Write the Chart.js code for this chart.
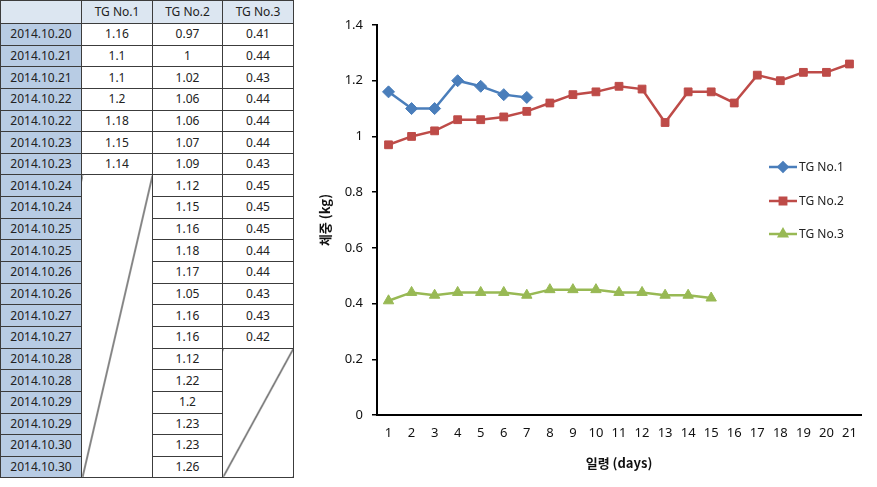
<!DOCTYPE html>
<html>
<head>
<meta charset="utf-8">
<script src="https://cdn.jsdelivr.net/npm/chart.js@4/dist/chart.umd.min.js"></script>
<style>
html,body{margin:0;padding:0;background:#fff;width:877px;height:487px;overflow:hidden;}
#tbl{position:absolute;left:0;top:0;border-collapse:collapse;table-layout:fixed;width:293px;
  font-family:"Noto Sans","Noto Sans CJK KR",sans-serif;font-size:12px;color:#222;}
#tbl td{border:1px solid #3c3c3c;padding:0;text-align:center;line-height:14px;overflow:hidden;white-space:nowrap;}
#tbl tr{height:21.65px;}
#tbl tr.head{height:23px;}
#tbl tr.head td{background:#DCE6F1;}
#tbl td.date{background:#B8CCE4;}
#tbl td.corner{background:#DCE6F1 linear-gradient(to top right, transparent calc(50% - 0.9px), #222 50%, transparent calc(50% + 0.9px));}
#tbl td.empty{background:linear-gradient(to bottom right, transparent calc(50% - 1px), #111 50%, transparent calc(50% + 1px));}
#wrap{position:absolute;left:300px;top:0;width:577px;height:487px;}
</style>
</head>
<body>
<table id="tbl">
  <colgroup><col style="width:81px"><col style="width:71px"><col style="width:70px"><col style="width:71px"></colgroup>
  <tbody id="tb"></tbody>
</table>
<div id="wrap"><canvas id="c" width="577" height="487"></canvas></div>
<script>
// ---- data ----
const seriesNames = ['TG No.1', 'TG No.2', 'TG No.3'];
const dates = ['2014.10.20','2014.10.21','2014.10.21','2014.10.22','2014.10.22','2014.10.23','2014.10.23',
  '2014.10.24','2014.10.24','2014.10.25','2014.10.25','2014.10.26','2014.10.26','2014.10.27','2014.10.27',
  '2014.10.28','2014.10.28','2014.10.29','2014.10.29','2014.10.30','2014.10.30'];
const days = ['1','2','3','4','5','6','7','8','9','10','11','12','13','14','15','16','17','18','19','20','21'];
const tg1 = [1.16, 1.1, 1.1, 1.2, 1.18, 1.15, 1.14];
const tg2 = [0.97, 1, 1.02, 1.06, 1.06, 1.07, 1.09, 1.12, 1.15, 1.16, 1.18, 1.17, 1.05, 1.16, 1.16, 1.12, 1.22, 1.2, 1.23, 1.23, 1.26];
const tg3 = [0.41, 0.44, 0.43, 0.44, 0.44, 0.44, 0.43, 0.45, 0.45, 0.45, 0.44, 0.44, 0.43, 0.43, 0.42];
const yTickValues = [0, 0.2, 0.4, 0.6, 0.8, 1, 1.2, 1.4];
const yTickLabels = ['0', '0.2', '0.4', '0.6', '0.8', '1', '1.2', '1.4'];
const yTitle = '체중 (kg)';
const xTitle = '일령 (days)';

// ---- table ----
const tb = document.getElementById('tb');
(function buildTable(){
  const series = [tg1, tg2, tg3];
  let h = '<tr class="head"><td class="corner"></td>' + seriesNames.map(n => '<td>' + n + '</td>').join('') + '</tr>';
  dates.forEach((d, i) => {
    h += '<tr><td class="date">' + d + '</td>';
    series.forEach(s => {
      if (i < s.length) h += '<td>' + s[i] + '</td>';
      else if (i === s.length) h += '<td class="empty" rowspan="' + (dates.length - s.length) + '"></td>';
    });
    h += '</tr>';
  });
  tb.innerHTML = h;
})();

// ---- chart ----
const C1 = '#4A7EBB', C2 = '#BE4B48', C3 = '#98B954';
const tickFont = {family: '"Noto Sans", sans-serif', size: 13};
const titleFont = {family: '"Noto Sans CJK KR", "Noto Sans", sans-serif', size: 13, weight: 'bold'};

const insideLegend = {
  id: 'insideLegend',
  afterDatasetsDraw(chart) {
    const ctx = chart.ctx;
    const rows = [167, 201, 234];
    const x0 = 469, x1 = 497, mx = 483, tx = 499;
    ctx.save();
    chart.data.datasets.forEach((ds, i) => {
      const y = rows[i];
      ctx.strokeStyle = ds.borderColor;
      ctx.lineWidth = 2.5;
      ctx.beginPath(); ctx.moveTo(x0, y); ctx.lineTo(x1, y); ctx.stroke();
      ctx.fillStyle = ds.backgroundColor;
      Chart.helpers.drawPoint(ctx, {pointStyle: ds.pointStyle, radius: 4.5, rotation: 0, borderWidth: 1}, mx, y);
      ctx.fillStyle = '#222';
      ctx.font = '12px "Noto Sans", sans-serif';
      ctx.textBaseline = 'middle';
      ctx.textAlign = 'left';
      ctx.fillText(ds.label, tx, y + 0.5);
    });
    ctx.restore();
  }
};

new Chart(document.getElementById('c'), {
  type: 'line',
  data: {
    labels: days,
    datasets: [
      {label: seriesNames[0], data: tg1, borderColor: C1, backgroundColor: C1, pointStyle: 'rectRot', pointRadius: 6, pointBorderWidth: 1, borderWidth: 2.5, tension: 0},
      {label: seriesNames[1], data: tg2, borderColor: C2, backgroundColor: C2, pointStyle: 'rect', pointRadius: 5.5, pointBorderWidth: 1, borderWidth: 2.5, tension: 0},
      {label: seriesNames[2], data: tg3, borderColor: C3, backgroundColor: C3, pointStyle: 'triangle', pointRadius: 6, pointBorderWidth: 1, borderWidth: 2.5, tension: 0}
    ]
  },
  options: {
    responsive: false,
    animation: false,
    devicePixelRatio: 1,
    layout: {padding: {left: 12, right: 16, top: 25, bottom: 0}},
    plugins: {legend: {display: false}, tooltip: {enabled: false}},
    scales: {
      x: {
        offset: true,
        grid: {display: false, drawTicks: false},
        border: {display: true, color: '#000', width: 2},
        ticks: {color: '#111', font: tickFont, padding: 10, maxRotation: 0, autoSkip: false},
        title: {display: true, text: xTitle, color: '#111', font: titleFont, padding: {top: 0, bottom: 16}},
        afterFit(s) { s.height = 72; }
      },
      y: {
        min: 0, max: 1.4,
        afterBuildTicks(s) { s.ticks = yTickValues.map(v => ({value: v})); },
        grid: {drawOnChartArea: false, drawTicks: true, tickLength: 5, color: '#000', lineWidth: 1.5},
        border: {display: true, color: '#000', width: 2},
        ticks: {color: '#111', font: tickFont, padding: 9,
          callback: (v, i) => yTickLabels[yTickValues.indexOf(+(+v).toFixed(1))]},
        title: {display: true, text: yTitle, color: '#111', font: titleFont, padding: {top: 5, bottom: 0}},
        afterFit(s) { s.width = 65; }
      }
    }
  },
  plugins: [insideLegend]
});
</script>
</body>
</html>
